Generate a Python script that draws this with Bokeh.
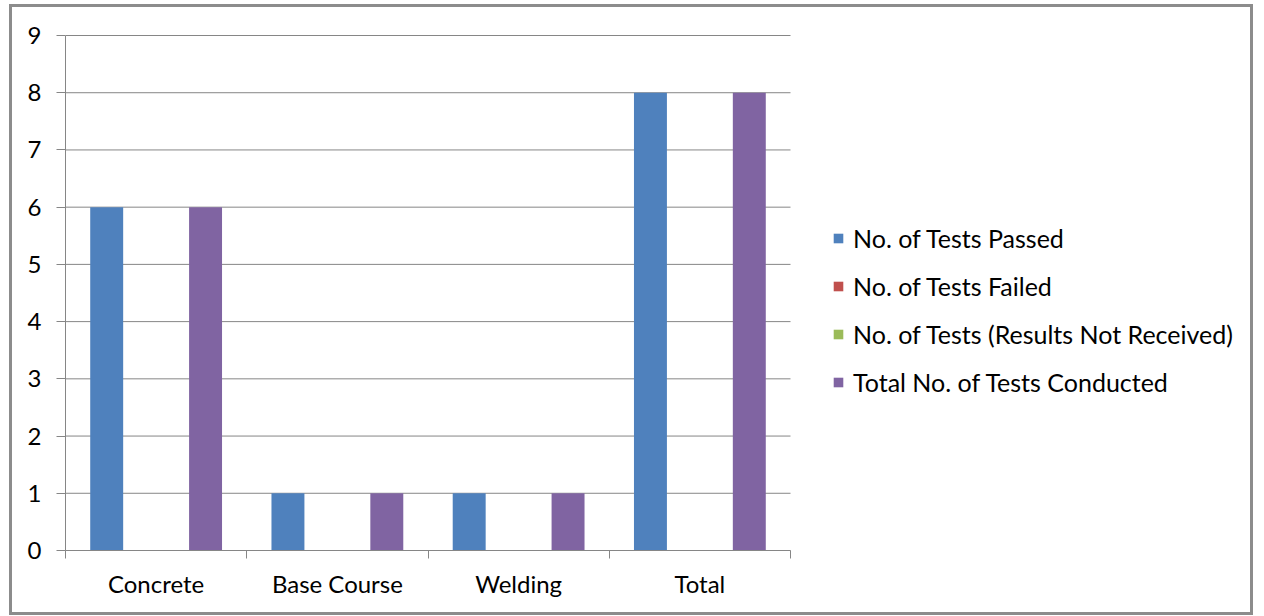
import numpy as np
from bokeh.plotting import figure
from bokeh.models import Range1d, FixedTicker, Legend, LegendItem, ColumnDataSource
from bokeh.embed import file_html
from bokeh.resources import INLINE

categories = ["Concrete", "Base Course", "Welding", "Total"]
series_names = ["No. of Tests Passed", "No. of Tests Failed",
                "No. of Tests (Results Not Received)", "Total No. of Tests Conducted"]
passed = [6, 1, 1, 8]
failed = [0, 0, 0, 0]
not_received = [0, 0, 0, 0]
total_conducted = [6, 1, 1, 8]
series_values = [passed, failed, not_received, total_conducted]
colors = ["#4F81BD", "#C0504D", "#9BBB59", "#8064A2"]
y_ticks = list(range(10))

FONT = "Lato"
FS = "24px"
LEG_FS = "25px"
GRID = "#868686"

# layout (canvas pixels inside the 3px border)
W, H = 1244, 611
B_LEFT, B_RIGHT, B_TOP, B_BOTTOM = 53, 4, 27, 68
CAT_PX = 181.25  # pixel width of one category slot
frame_w = W - B_LEFT - B_RIGHT
x_end = frame_w / CAT_PX
frame_h = H - B_TOP - B_BOTTOM
y_end = 9 * frame_h / (frame_h - 1)

p = figure(width=W, height=H, output_backend="svg", toolbar_location=None,
           x_range=Range1d(0, x_end), y_range=Range1d(0, y_end),
           min_border_left=B_LEFT, min_border_right=B_RIGHT,
           min_border_top=B_TOP, min_border_bottom=B_BOTTOM)
p.styles = {"border": "3px solid #8c8c8c", "margin-left": "9px", "margin-top": "4px"}
p.outline_line_color = None
p.background_fill_color = "white"
p.border_fill_color = "white"
p.xgrid.grid_line_color = None
p.ygrid.grid_line_color = None

# horizontal gridlines limited to the category area
n = len(categories)
p.segment(x0=[0] * len(y_ticks), x1=[n] * len(y_ticks), y0=y_ticks, y1=y_ticks,
          line_color=GRID, line_width=1)

centers = np.arange(n) + 0.5
w = 1 / 5.5
items = []
for i, (name, vals, col) in enumerate(zip(series_names, series_values, colors)):
    src = ColumnDataSource(dict(x=centers + (i - 1.5) * w, top=vals))
    r = p.vbar(x="x", top="top", bottom=0, width=w, source=src,
               fill_color=col, line_color=None)
    items.append(LegendItem(label=name, renderers=[r]))

# x axis
xa = p.xaxis[0]
xa.bounds = (0, n)
xa.ticker = FixedTicker(ticks=list(centers), minor_ticks=list(range(n + 1)))
xa.major_label_overrides = {float(c): lab for c, lab in zip(centers, categories)}
xa.major_tick_out = 0
xa.major_tick_in = 0
xa.minor_tick_out = 8
xa.minor_tick_in = 0
xa.minor_tick_line_color = GRID
xa.axis_line_color = GRID
xa.major_label_text_font = FONT
xa.major_label_text_font_size = FS
xa.major_label_text_color = "black"
xa.major_label_standoff = 10

# y axis
ya = p.yaxis[0]
ya.bounds = (0, 9)
ya.ticker = FixedTicker(ticks=y_ticks)
ya.major_tick_out = 9
ya.major_tick_in = 0
ya.minor_tick_line_color = None
ya.major_tick_line_color = GRID
ya.axis_line_color = GRID
ya.major_label_text_font = FONT
ya.major_label_text_font_size = FS
ya.major_label_text_color = "black"
ya.major_label_standoff = 15

legend = Legend(items=items, location=(767, 153), orientation="vertical",
                glyph_width=12, glyph_height=12, label_standoff=9,
                label_text_font=FONT, label_text_font_size=LEG_FS, label_text_color="black",
                label_height=25, spacing=18, padding=0, margin=0,
                border_line_color=None, background_fill_alpha=0)
p.add_layout(legend)

open("out.html", "w").write(file_html(p, INLINE))
